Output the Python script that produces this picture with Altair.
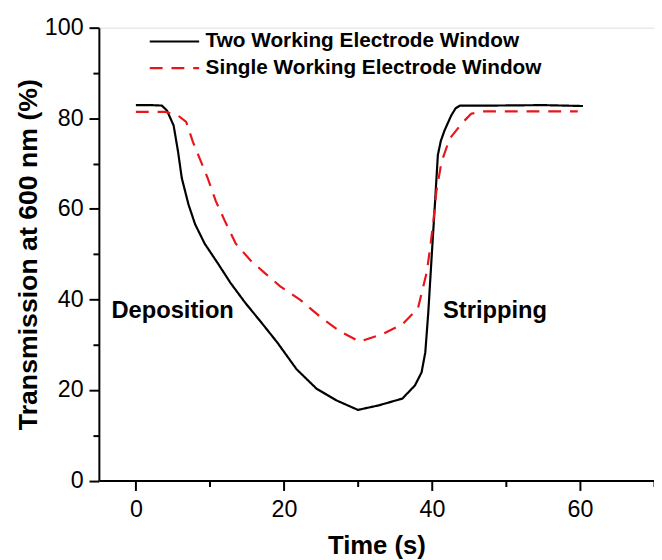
import altair as alt
import pandas as pd

# Two Working Electrode Window (solid black)
t_two = [0, 2, 3.5, 4.2, 5.1, 5.7, 6.2, 7.1, 8.0, 9.3, 11.1, 12.8, 14.8, 17.0,
         19.1, 21.7, 24.4, 27.1, 30.0, 32.8, 36.0, 37.7, 38.6, 39.1, 39.5, 40.0,
         40.4, 40.8, 41.2, 41.7, 42.6, 43.2, 43.8, 48.4, 55.0, 60.4]
y_two = [82.9, 82.9, 82.8, 81.7, 78.4, 72.6, 66.8, 61.0, 56.6, 52.3, 47.9, 43.6,
         39.2, 34.8, 30.5, 24.6, 20.3, 17.7, 15.6, 16.6, 18.1, 21.0, 23.9, 28.3,
         37.0, 50.5, 61.0, 71.9, 75.0, 77.3, 80.6, 82.2, 82.8, 82.8, 82.9, 82.7]

# Single Working Electrode Window (dashed red)
t_one = [0, 2, 4, 5.7, 6.8, 7.7, 8.6, 9.7, 10.8, 12.0, 13.5, 15.5, 17.5, 19.5,
         22.2, 24.8, 27.5, 30.2, 33.3, 36.0, 38.1, 39.3, 39.8, 40.2, 40.6, 41.3,
         42.4, 44.0, 45.3, 46.8, 50.0, 55.0, 59.7]
y_one = [81.4, 81.4, 81.4, 80.6, 79.2, 74.8, 71.2, 66.8, 61.7, 57.4, 52.3, 48.6,
         45.7, 42.9, 39.9, 36.3, 33.0, 30.7, 32.3, 34.5, 38.0, 46.0, 52.0, 57.4,
         63.9, 70.4, 75.5, 78.8, 81.0, 81.5, 81.5, 81.5, 81.5]

series_names = ["Two Working Electrode Window", "Single Working Electrode Window"]

ann_text = ["Deposition", "Stripping"]
ann_x = [-3.3, 41.5]
ann_y = [37.4, 37.4]

x_ticks = [0, 10, 20, 30, 40, 50, 60, 70]
y_ticks = [0, 10, 20, 30, 40, 50, 60, 70, 80, 90, 100]

df = pd.concat([
    pd.DataFrame({"t": t_two, "v": y_two, "series": series_names[0], "order": range(len(t_two))}),
    pd.DataFrame({"t": t_one, "v": y_one, "series": series_names[1], "order": range(len(t_one))}),
])
ann = pd.DataFrame({"t": ann_x, "v": ann_y, "label": ann_text})

FONT = "Liberation Sans"

x_scale = alt.Scale(domain=[-5, 70], nice=False, zero=False)
y_scale = alt.Scale(domain=[0, 100], nice=False, zero=False)

x_axis = alt.Axis(
    values=x_ticks,
    labelExpr="datum.value % 20 === 0 && datum.value < 70 ? datum.label : ''",
    tickSize={"condition": {"test": "datum.value % 20 === 0", "value": 10}, "value": 6},
    labelPadding=7, labelFontSize=23.5, labelFont=FONT, labelColor="black",
    title="Time (s)", titleFontSize=26, titleFont=FONT, titleFontWeight="bold",
    titleColor="black", titleBaseline="alphabetic", titleY=74, grid=False,
    domainColor="black", domainWidth=2, tickColor="black", tickWidth=2,
)
y_axis = alt.Axis(
    values=y_ticks,
    labelExpr="datum.value % 20 === 0 ? datum.label : ''",
    tickSize={"condition": {"test": "datum.value % 20 === 0", "value": 10}, "value": 6},
    labelPadding=6, labelFontSize=23.5, labelFont=FONT, labelColor="black",
    title="Transmission at 600 nm (%)", titleFontSize=27, titleFont=FONT,
    titleFontWeight="bold", titleColor="black", titleBaseline="alphabetic",
    titleX=-63.5, grid=False,
    domainColor="black", domainWidth=2, tickColor="black", tickWidth=2,
)

legend = alt.Legend(
    title=None, orient="none", legendX=62.5, legendY=0,
    symbolType="M-2,0H2", symbolSize=625, symbolStrokeWidth=2.2,
    labelFontSize=21, labelFont=FONT, labelFontWeight="bold", labelColor="black",
    labelOffset=17.5, rowPadding=3, padding=0, labelLimit=0,
)

lines = alt.Chart(df).mark_line(strokeWidth=2.2).encode(
    x=alt.X("t:Q", scale=x_scale, axis=x_axis),
    y=alt.Y("v:Q", scale=y_scale, axis=y_axis),
    color=alt.Color("series:N", scale=alt.Scale(domain=series_names, range=["#000000", "#e8161b"]), legend=legend),
    strokeDash=alt.StrokeDash("series:N", scale=alt.Scale(domain=series_names, range=[[1, 0], [13, 9]]), legend=legend),
    order="order:Q",
)

labels = alt.Chart(ann).mark_text(
    align="left", baseline="middle", font=FONT, fontSize=24, fontWeight="bold", color="black"
).encode(
    x=alt.X("t:Q", scale=x_scale),
    y=alt.Y("v:Q", scale=y_scale),
    text="label:N",
)

chart = alt.layer(lines, labels).properties(
    width=562, height=458.5,
    autosize=alt.AutoSizeParams(type="none"),
    padding={"left": 92, "top": 16.5, "right": 0, "bottom": 77},
).configure_view(stroke=None).configure(font=FONT)

chart.save("out.html", embed_options={"renderer": "svg", "actions": False})
